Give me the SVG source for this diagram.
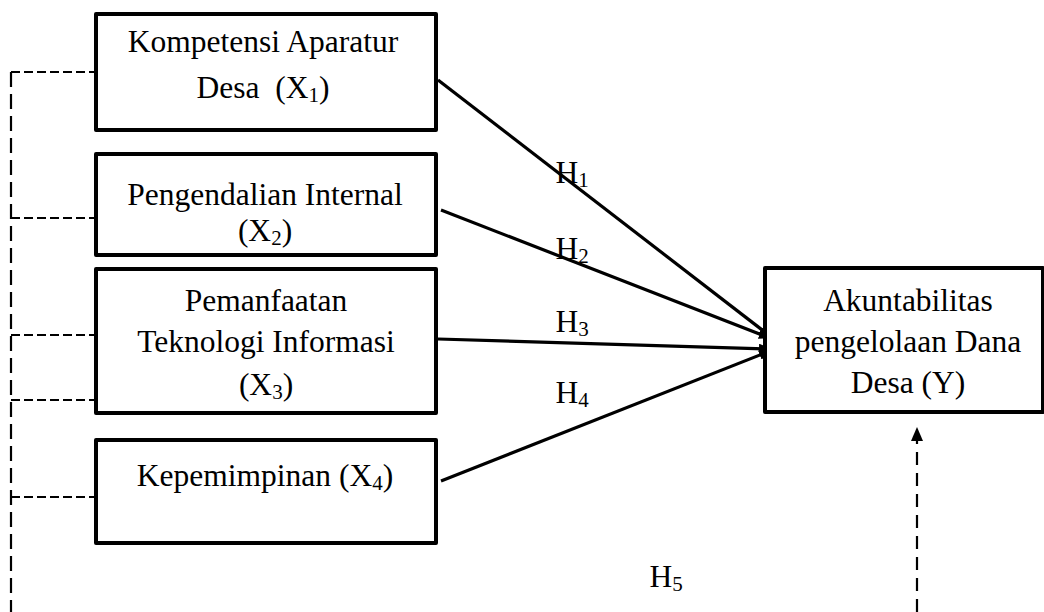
<svg xmlns="http://www.w3.org/2000/svg" width="1044" height="612" viewBox="0 0 1044 612">
<defs>
<style>
.box{fill:#fff;stroke:#000;stroke-width:4;stroke-linejoin:round}
.t{font-family:"Liberation Serif","Times New Roman",serif;font-size:31.5px;fill:#000;text-anchor:middle}
.sub{font-size:21px}
.arr{stroke:#000;stroke-width:3.2;fill:none;marker-end:url(#ah)}
.dh{stroke:#000;stroke-width:2.2;fill:none;stroke-dasharray:9 4}
.dv{stroke:#000;stroke-width:2.2;fill:none;stroke-dasharray:15 7}
</style>
<marker id="ah" markerWidth="12" markerHeight="10" refX="11" refY="5" orient="auto" markerUnits="userSpaceOnUse">
<path d="M0,0 L12,5 L0,10 Z" fill="#000"/>
</marker>
<marker id="ah2" markerWidth="14" markerHeight="12" refX="13" refY="6" orient="auto" markerUnits="userSpaceOnUse">
<path d="M0,0 L14,6 L0,12 Z" fill="#000"/>
</marker>
</defs>
<rect width="1044" height="612" fill="#fff"/>
<g id="connectors">
<path class="dv" d="M11,72 V612"/>
<path class="dh" d="M11,72 H96 M11,218 H96 M11,335 H96 M11,400 H96 M11,497 H96"/>
<path d="M917,612 V428" stroke="#000" stroke-width="2.2" fill="none" stroke-dasharray="13 8" marker-end="url(#ah2)"/>
<line class="arr" x1="438" y1="80" x2="770" y2="336"/>
<line class="arr" x1="441" y1="210" x2="770" y2="338"/>
<line class="arr" x1="438" y1="339" x2="770" y2="349"/>
<line class="arr" x1="441" y1="481" x2="770" y2="351"/>
<text class="t" x="572" y="183" text-anchor="start">H<tspan class="sub" dy="4">1</tspan></text>
<text class="t" x="572" y="259" text-anchor="start">H<tspan class="sub" dy="4">2</tspan></text>
<text class="t" x="572" y="332" text-anchor="start">H<tspan class="sub" dy="4">3</tspan></text>
<text class="t" x="572" y="403" text-anchor="start">H<tspan class="sub" dy="4">4</tspan></text>
<text class="t" x="666" y="587" text-anchor="start">H<tspan class="sub" dy="4">5</tspan></text>
</g>
<g id="x1">
<rect class="box" x="96" y="14" width="340" height="116"/>
<text class="t" x="263" y="52">Kompetensi Aparatur</text>
<text class="t" x="263" y="98">Desa&#160; (X<tspan class="sub" dy="4">1</tspan><tspan dy="-4">)</tspan></text>
</g>
<g id="x2">
<rect class="box" x="96" y="154" width="340" height="101"/>
<text class="t" x="265" y="205">Pengendalian Internal</text>
<text class="t" x="265" y="241">(X<tspan class="sub" dy="4">2</tspan><tspan dy="-4">)</tspan></text>
</g>
<g id="x3">
<rect class="box" x="96" y="269" width="340" height="144"/>
<text class="t" x="266" y="311">Pemanfaatan</text>
<text class="t" x="266" y="352">Teknologi Informasi</text>
<text class="t" x="266" y="395">(X<tspan class="sub" dy="4">3</tspan><tspan dy="-4">)</tspan></text>
</g>
<g id="x4">
<rect class="box" x="96" y="440" width="340" height="103"/>
<text class="t" x="265" y="486">Kepemimpinan (X<tspan class="sub" dy="4">4</tspan><tspan dy="-4">)</tspan></text>
</g>
<g id="y">
<rect class="box" x="765" y="268" width="278" height="144"/>
<text class="t" x="908" y="311">Akuntabilitas</text>
<text class="t" x="908" y="352">pengelolaan Dana</text>
<text class="t" x="908" y="393">Desa (Y)</text>
</g>
</svg>
